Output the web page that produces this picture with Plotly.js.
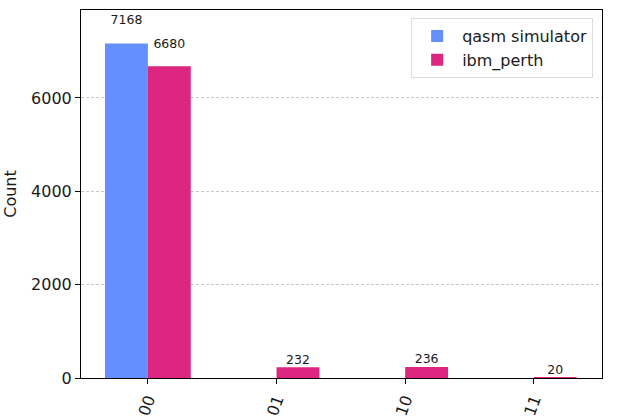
<!DOCTYPE html>
<html>
<head>
<meta charset="utf-8">
<script src="https://cdn.plot.ly/plotly-3.0.1.min.js"></script>
<style>html,body{margin:0;padding:0;background:#fff;}#chart{width:617px;height:418px;}</style>
</head>
<body>
<div id="chart"></div>
<script>
var categories = ["00", "01", "10", "11"];
var seriesNames = ["qasm simulator", "ibm_perth"];
var simCounts = [7168, 0, 0, 0];
var perthCounts = [6680, 232, 236, 20];
var colors = ["#648fff", "#dc267f"];

var barWidth = 1 / 3;
var allSeries = [simCounts, perthCounts];
var idx = categories.map(function (c, i) { return i; });
var traces = [];
var maxVal = 0;
allSeries.forEach(function (vals, s) {
  var off = (s - 0.5) * barWidth;
  var xs = idx.map(function (i) { return i + off; });
  vals.forEach(function (v) { if (v > maxVal) maxVal = v; });
  traces.push({
    type: "bar", name: seriesNames[s], x: xs, y: vals, width: barWidth,
    marker: {color: colors[s], line: {width: 0}}, hoverinfo: "skip"
  });
});
allSeries.forEach(function (vals, s) {
  var off = (s - 0.5) * barWidth;
  var tx = [], ty = [], tt = [];
  vals.forEach(function (v, i) {
    if (v > 0) { tx.push(i + off); ty.push(v * 1.05); tt.push(String(v)); }
  });
  traces.push({
    type: "scatter", mode: "text", x: tx, y: ty, text: tt,
    textposition: "top center", showlegend: false, hoverinfo: "skip",
    cliponaxis: false,
    textfont: {family: "DejaVu Sans", size: 12.5, color: "#1a1a1a"}
  });
});

var layout = {
  width: 617, height: 418,
  margin: {l: 81, r: 15, t: 10, b: 40, pad: 0},
  paper_bgcolor: "#fff", plot_bgcolor: "#fff",
  font: {family: "DejaVu Sans", size: 16, color: "#1a1a1a"},
  barmode: "overlay",
  showlegend: true,
  legend: {
    x: 0.983, y: 0.978, xanchor: "right", yanchor: "top",
    bgcolor: "rgba(255,255,255,0.8)", bordercolor: "#dcdcdc", borderwidth: 1,
    font: {family: "DejaVu Sans", size: 16, color: "#1a1a1a"},
    traceorder: "normal", itemwidth: 40
  },
  xaxis: {
    range: [-0.52, 3.53], tickmode: "array", tickvals: idx, ticktext: categories,
    tickangle: -70, ticks: "outside", ticklen: 5, tickcolor: "#000",
    showline: true, linecolor: "#000", linewidth: 1, mirror: true,
    showgrid: false, zeroline: false,
    tickfont: {family: "DejaVu Sans", size: 16, color: "#1a1a1a"}
  },
  yaxis: {
    range: [0, maxVal * 1.1], tickmode: "array", tickvals: [0, 2000, 4000, 6000],
    ticks: "outside", ticklen: 5, tickcolor: "#000",
    showline: true, linecolor: "#000", linewidth: 1, mirror: true,
    showgrid: true, gridcolor: "#c8c8c8", griddash: "3px,2px", gridwidth: 1,
    zeroline: false,
    title: {text: "Count", font: {family: "DejaVu Sans", size: 16, color: "#1a1a1a"}, standoff: 10},
    tickfont: {family: "DejaVu Sans", size: 16, color: "#1a1a1a"}
  }
};

Plotly.newPlot("chart", traces, layout, {displayModeBar: false, staticPlot: true});
</script>
</body>
</html>
